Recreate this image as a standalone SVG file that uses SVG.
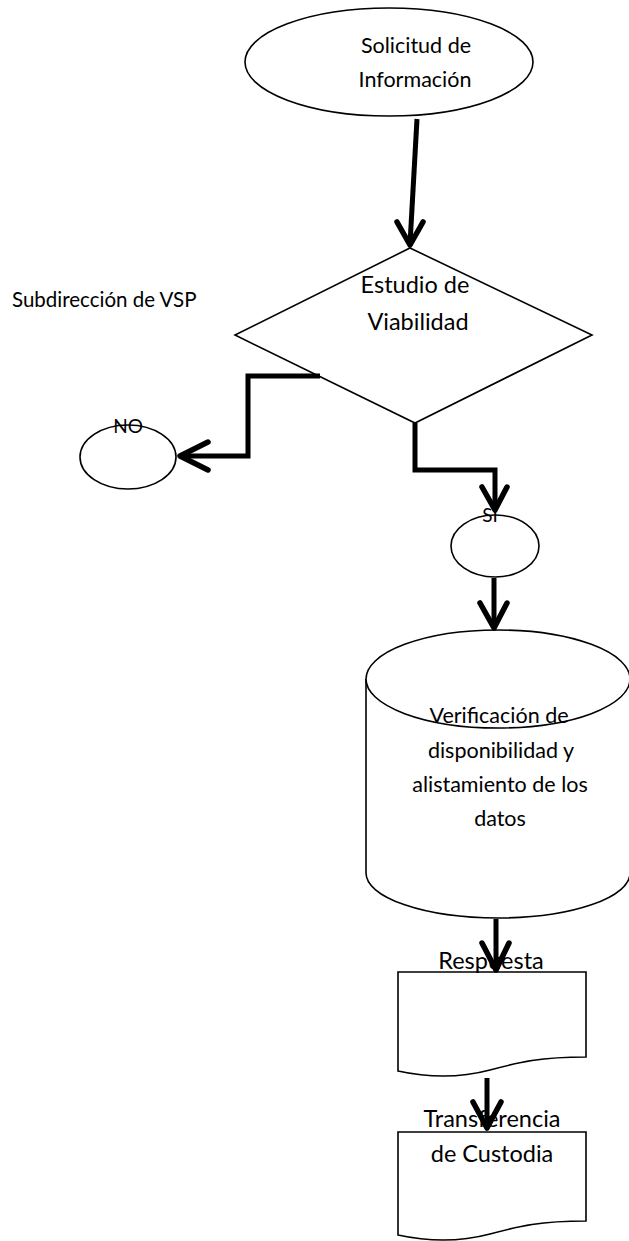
<svg xmlns="http://www.w3.org/2000/svg" width="629" height="1241" viewBox="0 0 629 1241">
<style>
.shape{fill:#fff;stroke:#000;stroke-width:1.6}
.conn{fill:none;stroke:#000;stroke-width:5;stroke-linejoin:miter}
.head{fill:none;stroke:#000;stroke-width:5.5;stroke-linecap:round;stroke-linejoin:round}
.t{font-family:Lato,"Open Sans","Liberation Sans",sans-serif;fill:#000;text-anchor:middle}
.s{font-size:21.5px}
.n{font-size:19px}
.m{font-size:20.5px}
.l{font-size:23.5px}
</style>
<rect width="629" height="1241" fill="#fff"/>
<g id="n-solicitud">
<ellipse class="shape" cx="389" cy="62" rx="144" ry="54"/>
<text class="t s" x="416" y="53">Solicitud de</text>
<text class="t s" x="415" y="87">Información</text>
</g>
<g id="n-estudio">
<polygon class="shape" points="410,248 592,335 415,423 235,335"/>
<text class="t l" x="415" y="293">Estudio de</text>
<text class="t l" x="418" y="330">Viabilidad</text>
</g>
<g id="n-subdireccion">
<text class="t m" x="12" y="307" style="text-anchor:start">Subdirección de VSP</text>
</g>
<g id="n-no">
<ellipse class="shape" cx="128" cy="457" rx="48" ry="32"/>
<text class="t n" x="128" y="433">NO</text>
</g>
<g id="n-si">
<ellipse class="shape" cx="495" cy="546" rx="44" ry="31"/>
<text class="t n" x="490" y="522">SI</text>
</g>
<g id="n-verificacion">
<path class="shape" d="M366,679 V873 A132,45 0 0 0 630,873 V679"/>
<ellipse class="shape" cx="498" cy="679" rx="132" ry="49"/>
<text class="t s" x="499" y="723">Verificación de</text>
<text class="t s" x="501" y="758">disponibilidad y</text>
<text class="t s" x="500" y="792">alistamiento de los</text>
<text class="t s" x="500" y="826">datos</text>
</g>
<g id="n-respuesta">
<path class="shape" d="M398,972 H586 V1057 C540,1057 520,1062 490,1070 C460,1078 430,1078 398,1071 Z"/>
<text class="t l" x="491" y="969">Respuesta</text>
</g>
<g id="n-transferencia">
<path class="shape" d="M398,1132 H586 V1221 C540,1221 520,1226 490,1234 C460,1242 430,1242 398,1235 Z"/>
<text class="t l" x="492" y="1127">Transferencia</text>
<text class="t l" x="492" y="1162">de Custodia</text>
</g>
<g id="connectors">
<path class="conn" d="M417,119 L410,244"/>
<path class="head" d="M397,222 L410,245 L423,222"/>
<path class="conn" d="M320,376 H248 V456 H182"/>
<path class="head" d="M208,442 L180,456 L208,470"/>
<path class="conn" d="M415,423 V470 H495 V508"/>
<path class="head" d="M482,487 L495,510 L507,487"/>
<path class="conn" d="M494,578 V626"/>
<path class="head" d="M480,603 L494,628 L507,603"/>
<path class="conn" d="M496,919 V968"/>
<path class="head" d="M482,943 L496,970 L509,943"/>
<path class="conn" d="M487,1078 V1126"/>
<path class="head" d="M473,1102 L487,1128 L501,1102"/>
</g>
</svg>
